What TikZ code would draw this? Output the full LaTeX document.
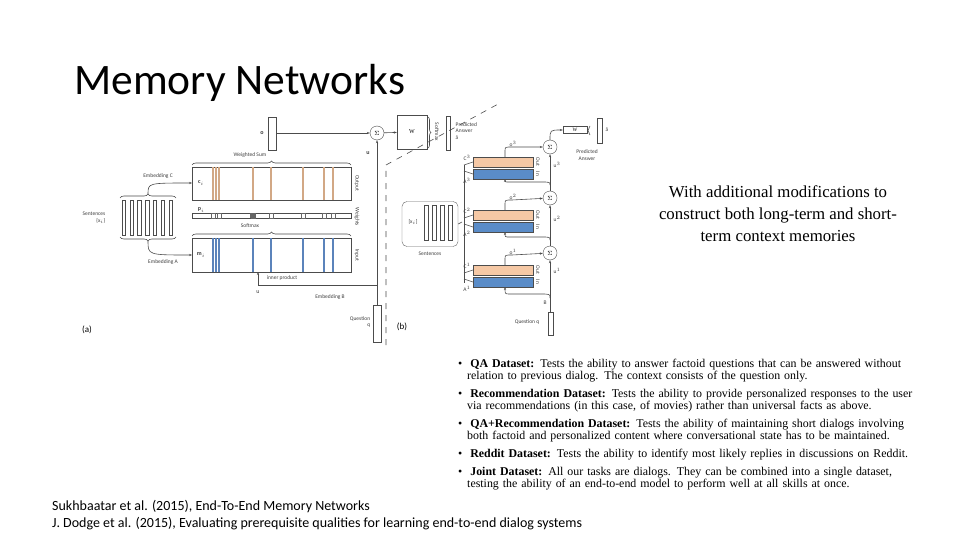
\documentclass[tikz,border=0pt]{standalone}
\usepackage{fontspec}
\setmainfont{Liberation Serif}
\newfontfamily\calib{Carlito}
\usetikzlibrary{arrows.meta,decorations.pathreplacing}
\definecolor{org}{RGB}{245,200,165}
\definecolor{orgd}{RGB}{190,130,80}
\definecolor{blu}{RGB}{90,140,200}
\definecolor{blud}{RGB}{50,100,170}
\begin{document}
\begin{tikzpicture}[x=1pt,y=-1pt,
  lab/.style={font=\calib\fontsize{5.5}{6.5}\selectfont,inner sep=0.5pt,text=black!75},
  ln/.style={draw=black!70,line width=0.6pt},
  arr/.style={ln,-{Stealth[length=3pt]}},
  sig/.style={circle,draw=black!70,minimum size=14pt,inner sep=0,font=\fontsize{6}{6}\selectfont},
  row/.style={draw=black!70,line width=0.5pt,fill=white},
  bullet/.style={anchor=north west,text width=490pt,align=left,font=\fontsize{11.9}{12.2}\selectfont,inner sep=0},
]
\useasboundingbox (0,0) rectangle (960,540);
\fill[white] (0,0) rectangle (960,540);
\node[anchor=base west,font=\calib\fontsize{43.5}{44}\selectfont,inner sep=0] (title) at (74,95) {Memory Networks};

% ---------------- (a)
\draw[row] (268,117) rectangle (276,150);
\node[lab,font=\calib\bfseries\fontsize{6}{6}\selectfont] (olab) at (262,133) {o};
\node[sig] (s1) at (377,133) {$\Sigma$};
\node[draw=black!70,minimum width=30pt,minimum height=34pt,inner sep=0,font=\fontsize{6}{6}\selectfont] (W1) at (412,132) {W};
\coordinate (oR) at (276,133);
\draw[arr] (oR) -- (s1);
\draw[arr] (s1) -- (W1);
\draw[ln,decorate,decoration={brace,amplitude=4pt}] (192,165) -- (351,165);
\node[lab] (ws) at (250,155) {Weighted Sum};
% rows
\draw[row] (192,167) rectangle (351,200);
\draw[row] (192,213) rectangle (351,218);
\draw[row] (192,238) rectangle (351,272);
\foreach \x in {213,216,219,253,271,303,324,333}{
  \fill[orgd!70] (\x-1,167.3) rectangle (\x+1,199.7);
  \fill[blud!80] (\x-1,238.3) rectangle (\x+1,271.7);}
\foreach \x in {213,219,253,271,303,324,333}{\draw[black!60,line width=0.3pt] (\x-2,213) rectangle (\x+2,218);}
\fill[black!60] (250,213) rectangle (256,218);
\node[lab,font=\calib\bfseries\fontsize{6}{6}\selectfont] (ci) at (201,183) {c$_i$};
\node[lab,font=\calib\bfseries\fontsize{6}{6}\selectfont] (pi) at (201,210) {p$_i$};
\node[lab,font=\calib\bfseries\fontsize{6}{6}\selectfont] (mi) at (201,255) {m$_i$};
\draw[ln,decorate,decoration={brace,amplitude=4pt}] (192,236) -- (351,236);
\node[lab] (sm) at (250,226) {Softmax};
\node[lab,rotate=-90] (out) at (357,183) {Output};
\node[lab,rotate=-90] (wts) at (357,217) {Weights};
\node[lab,rotate=-90] (inp) at (357,255) {Input};
% sentences
\draw[ln,decorate,decoration={brace,amplitude=4pt}] (120,198) -- (176,198);
\foreach \i in {0,...,6}{\draw[black!70,line width=0.5pt] (122+\i*7.8,200) rectangle (125.5+\i*7.8,235);}
\draw[ln,decorate,decoration={brace,amplitude=4pt}] (176,237) -- (120,237);
\node[lab,align=right] (sent) at (94,218) {Sentences\\\{x$_i$\}};
\node[lab] (embC) at (158,176) {Embedding C};
\node[lab] (embA) at (163,262) {Embedding A};
\coordinate (bt) at (148,194);
\coordinate (bb) at (148,241);
\coordinate (cin) at (192,183);
\coordinate (min) at (192,255);
\draw[arr] (bt) .. controls (148,183) .. (cin);
\draw[arr] (bb) .. controls (148,255) .. (min);
% question / u
\draw[row] (373,305) rectangle (381,342);
\node[lab,align=right] (qa) at (360,322) {Question\\q};
\node[lab] (embB) at (330,297) {Embedding B};
\coordinate (qtop) at (377,305);
\coordinate (ij) at (377,285);
\coordinate (ib) at (258,272);
\draw[arr] (qtop) -- (s1);
\draw[arr] (ij) -- (258,285) -- (ib);
\node[lab] (ip) at (282,278) {inner product};
\node[lab,font=\calib\bfseries\fontsize{6}{6}\selectfont] (u1) at (368,153) {u};
\node[lab,font=\calib\fontsize{6}{6}\selectfont] (u2) at (258,292) {u};
\node[font=\calib\fontsize{9}{9}\selectfont,inner sep=0] (la) at (87,330) {(a)};
\node[font=\calib\fontsize{9}{9}\selectfont,inner sep=0] (lb) at (402,327) {(b)};
% W softmax / predicted answer
\draw[ln,decorate,decoration={brace,amplitude=3pt}] (428,117) -- (428,148);
\node[lab,rotate=-90] (smx) at (437,132) {Softmax};
\draw[row] (446,116) rectangle (450,150);
\node[lab,align=left,anchor=west] (pa) at (455,131) {Predicted\\Answer\\\^{a}};
\draw[black!70,line width=0.6pt,dash pattern=on 6pt off 6pt] (386,345) -- (386,165) -- (500,103);

% ---------------- (b)
\node[draw=black!60,rounded corners=5pt,minimum width=56pt,minimum height=45pt,inner sep=0] (sbox) at (430,224) {};
\node[lab] (xi) at (413,222) {[x$_i$]};
\foreach \i in {0,...,3}{\draw[black!70,line width=0.5pt] (424+\i*8,205) rectangle (428+\i*8,240);}
\node[lab] (sentb) at (430,254) {Sentences};
\coordinate (vj) at (462,222);
\draw[ln] (sbox.east) -- (vj);
\draw[ln] (464,165) -- (464,283);
\foreach \y/\n in {157/3,210/2,265/1}{
  \fill[org] (473,\y) rectangle (533,\y+10); \draw[row,fill=none] (473,\y) rectangle (533,\y+10);
  \fill[blu] (473,\y+12) rectangle (533,\y+22); \draw[row,fill=none] (473,\y+12) rectangle (533,\y+22);
  \draw[ln] (464,\y+8) -- (473,\y+5);
  \draw[ln] (464,\y+14) -- (473,\y+17);
  \node[lab] at (467,\y+1) {C$^{\n}$};
  \node[lab] at (467,\y+24) {A$^{\n}$};
  \node[lab,rotate=-90] at (538,\y+5) {Out};
  \node[lab,rotate=-90] at (538,\y+17) {In};
}
\node[sig] (S3) at (550,147) {$\Sigma$};
\node[sig] (S2) at (550,198) {$\Sigma$};
\node[sig] (S1) at (550,253) {$\Sigma$};
\draw[row] (548,312) rectangle (553,335);
\node[lab] (qb) at (527,322) {Question q};
\node[lab] (B) at (545,303) {B};
\coordinate (qb2) at (550,312);
\draw[arr] (qb2) -- (S1);
\draw[arr] (S1) -- (S2);
\draw[arr] (S2) -- (S3);
\foreach \yo/\S/\n in {157/S3/3,210/S2/2,265/S1/1}{
  \draw[arr] (505,\yo) -- (505,\yo-6) .. controls (505,\yo-10) .. (512,\yo-10) -- (\S);
  \node[lab] at (513,\yo-13) {o$^{\n}$};
}
\draw[arr] (550,298) .. controls (550,294) .. (540,294) -- (510,294) .. controls (505,294) .. (505,287);
\draw[arr] (550,240) .. controls (550,237) .. (540,237) -- (510,237) .. controls (505,237) .. (505,232);
\draw[arr] (550,185) .. controls (550,182) .. (540,182) -- (510,182) .. controls (505,182) .. (505,179);
\node[lab] at (557,271) {u$^1$};
\node[lab] at (557,219) {u$^2$};
\node[lab] at (557,165) {u$^3$};
\node[draw=black!70,minimum width=24pt,minimum height=7pt,inner sep=0,font=\fontsize{5}{5}\selectfont] (W2) at (575,130) {W};
\draw[arr] (S3) .. controls (550,130) .. (W2);
\draw[ln,decorate,decoration={brace,amplitude=2pt,mirror}] (590,126) -- (590,135);
\draw[row] (597,118) rectangle (602,143);
\node[lab] at (607,130) {\^{a}};
\node[lab,align=center] (pab) at (587,155) {Predicted\\Answer};

% ---------------- right text
\node[align=center,font=\fontsize{16.8}{22}\selectfont,inner sep=0] (note) at (778,214) {With additional modifications to\\construct both long-term and short-\\term context memories};

% bullets
\node[bullet] (b1) at (458,359) {\textbullet\ \ \textbf{QA Dataset:} Tests the ability to answer factoid questions that can be answered without\\\hspace*{9pt}relation to previous dialog. The context consists of the question only.};
\node[bullet] (b2) at (458,389) {\textbullet\ \ \textbf{Recommendation Dataset:} Tests the ability to provide personalized responses to the user\\\hspace*{9pt}via recommendations (in this case, of movies) rather than universal facts as above.};
\node[bullet] (b3) at (458,419) {\textbullet\ \ \textbf{QA+Recommendation Dataset:} Tests the ability of maintaining short dialogs involving\\\hspace*{9pt}both factoid and personalized content where conversational state has to be maintained.};
\node[bullet] (b4) at (458,449) {\textbullet\ \ \textbf{Reddit Dataset:} Tests the ability to identify most likely replies in discussions on Reddit.};
\node[bullet] (b5) at (458,467) {\textbullet\ \ \textbf{Joint Dataset:} All our tasks are dialogs. They can be combined into a single dataset,\\\hspace*{9pt}testing the ability of an end-to-end model to perform well at all skills at once.};

\node[anchor=west,align=left,font=\calib\fontsize{14}{17}\selectfont,inner sep=0] (cite) at (52,515) {Sukhbaatar et al. (2015), End-To-End Memory Networks\\J. Dodge et al. (2015), Evaluating prerequisite qualities for learning end-to-end dialog systems};
\end{tikzpicture}
\end{document}
